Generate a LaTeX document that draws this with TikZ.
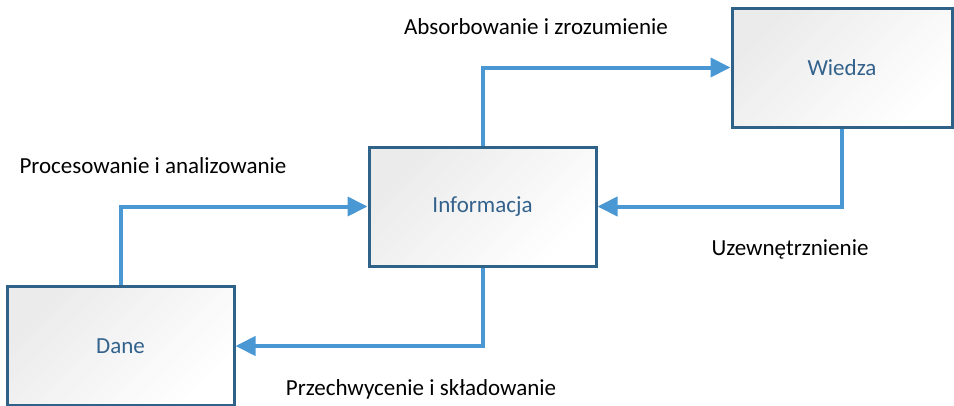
\documentclass[tikz,border=0pt]{standalone}
\usepackage{fontspec}
\setmainfont{Carlito}
\usetikzlibrary{arrows.meta}

\definecolor{boxline}{HTML}{2F6289}
\definecolor{boxtext}{HTML}{33628C}
\definecolor{flowline}{HTML}{4A98D3}

\begin{document}
\begin{tikzpicture}[x=1pt,y=-1pt,
        box/.style={draw=boxline, line width=3pt, left color=black!8, right color=white,
            shading angle=45, text=boxtext, font=\fontsize{23}{27}\selectfont,
            minimum width=227pt, minimum height=119pt, inner sep=0pt},
        flow/.style={draw=flowline, line width=4pt, -{Triangle[length=20pt,width=19pt]}},
        label/.style={font=\fontsize{23}{27}\selectfont, text=black}]
        \useasboundingbox (0,0) rectangle (954,405);

        % === BOXES ===
        \node[box] (dane) at (120.5,346) {Dane};
        \node[box] (info) at (482.5,206.5) {Informacja};
        \node[box, minimum width=220pt] (wiedza) at (842,67.5) {Wiedza};

        % === FLOWS ===
        \draw[flow] (dane.north) |- (info.west);
        \draw[flow] (info.north) |- (wiedza.west);
        \draw[flow] (wiedza.south) |- (info.east);
        \draw[flow] (info.south) |- (dane.east);

        % === LABELS ===
        \node[label] (proc) at (153,166) {Procesowanie i analizowanie};
        \node[label] (absorb) at (536,27) {Absorbowanie i zrozumienie};
        \node[label] (uzew) at (790,249) {Uzewnętrznienie};
        \node[label] (przech) at (421,389) {Przechwycenie i składowanie};

    \end{tikzpicture}
\end{document}
